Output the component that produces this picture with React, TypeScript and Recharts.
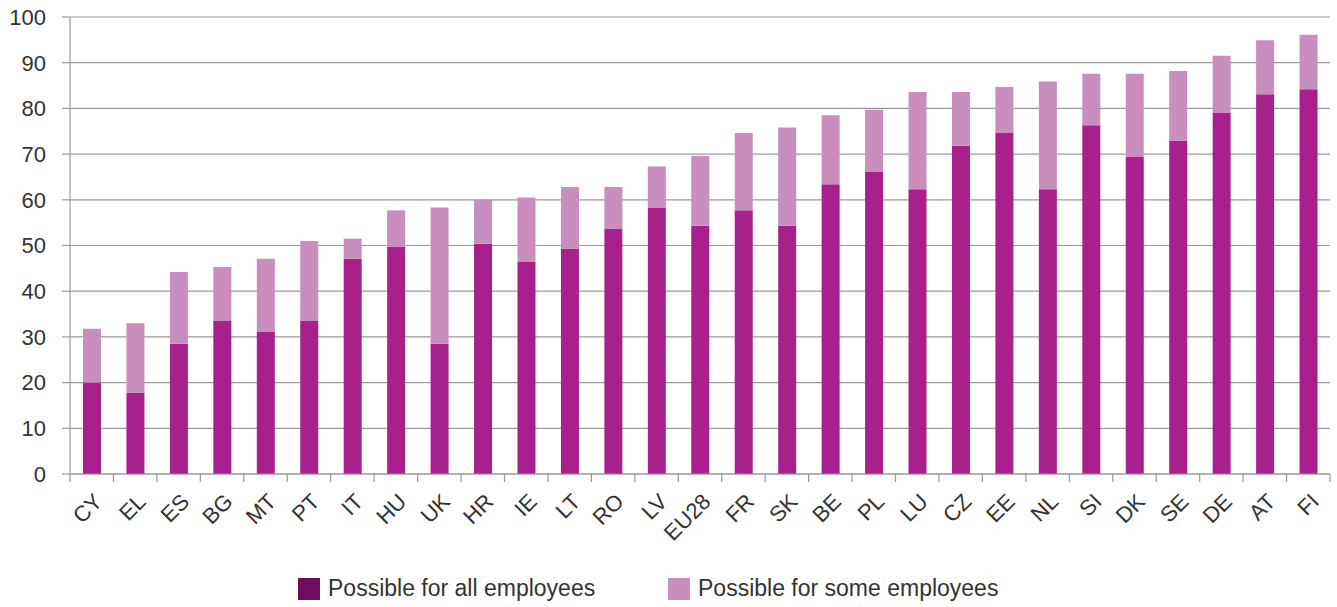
import { BarChart, Bar, XAxis, YAxis, CartesianGrid } from "recharts";

const countries = [
  "CY", "EL", "ES", "BG", "MT", "PT", "IT", "HU", "UK", "HR", "IE", "LT", "RO", "LV", "EU28",
  "FR", "SK", "BE", "PL", "LU", "CZ", "EE", "NL", "SI", "DK", "SE", "DE", "AT", "FI",
];
const allEmployees = [
  20.0, 17.8, 28.5, 33.5, 31.2, 33.5, 47.1, 49.8, 28.5, 50.4, 46.4, 49.3, 53.6, 58.3, 54.3,
  57.7, 54.3, 63.4, 66.1, 62.3, 71.8, 74.6, 62.3, 76.3, 69.5, 72.9, 79.1, 83.1, 84.2,
];
const someEmployees = [
  11.8, 15.2, 15.7, 11.8, 15.9, 17.5, 4.4, 7.9, 29.8, 9.6, 14.1, 13.5, 9.2, 9.0, 15.3,
  16.9, 21.5, 15.1, 13.6, 21.3, 11.8, 10.1, 23.6, 11.3, 18.1, 15.3, 12.4, 11.8, 11.9,
];
const yTicks = [0, 10, 20, 30, 40, 50, 60, 70, 80, 90, 100];

const W = 1337;
const H = 607;
const M = { top: 17, right: 7, left: 0, bottom: 0 };
const Y_AXIS_W = 70;
const X_AXIS_H = 133;
const STEP = (W - M.left - M.right - Y_AXIS_W) / countries.length;

const DARK = "#a8208c";
const LIGHT = "#c98ebe";
const TEXT = "#333333";
const GRID = "#9a9a9a";
const FONT = "'Liberation Sans', Arial, sans-serif";

const data = countries.map((c, i) => ({ name: c, all: allEmployees[i], some: someEmployees[i] }));

function XTick(props: any) {
  const { x, y, payload, index } = props;
  const last = index === countries.length - 1;
  const tx = x + 12;
  const ty = y + 29;
  return (
    <g>
      <line x1={x - STEP / 2} x2={x - STEP / 2} y1={y} y2={y + 8} stroke={GRID} strokeWidth={1.2} />
      {last && <line x1={x + STEP / 2} x2={x + STEP / 2} y1={y} y2={y + 8} stroke={GRID} strokeWidth={1.2} />}
      <text
        x={tx}
        y={ty}
        transform={`rotate(-45, ${tx}, ${ty})`}
        textAnchor="end"
        fontSize={22}
        fill={TEXT}
        fontFamily={FONT}
      >
        {payload.value}
      </text>
    </g>
  );
}

function LegendItem({ left, color, label }: { left: number; color: string; label: string }) {
  return (
    <div
      style={{
        position: "absolute",
        top: 575,
        left,
        display: "flex",
        alignItems: "center",
        fontFamily: FONT,
        fontSize: 23,
        color: TEXT,
        whiteSpace: "nowrap",
      }}
    >
      <span style={{ width: 22, height: 22, background: color, display: "inline-block", marginRight: 8 }} />
      <span>{label}</span>
    </div>
  );
}

export default function App() {
  return (
    <div style={{ position: "absolute", left: 0, top: 0, width: W, height: H, background: "#fff" }}>
      <BarChart width={W} height={H} data={data} margin={M}>
        <CartesianGrid vertical={false} stroke={GRID} strokeWidth={1.2} />
        <XAxis
          dataKey="name"
          interval={0}
          height={X_AXIS_H}
          tickLine={false}
          tickSize={0}
          tickMargin={0}
          axisLine={{ stroke: GRID, strokeWidth: 1.2 }}
          tick={<XTick />}
        />
        <YAxis
          domain={[0, 100]}
          ticks={yTicks}
          width={Y_AXIS_W}
          tickSize={8}
          tickMargin={16}
          tickLine={{ stroke: GRID, strokeWidth: 1.2 }}
          axisLine={{ stroke: GRID, strokeWidth: 1.2 }}
          tick={{ fontSize: 22, fill: TEXT, fontFamily: FONT }}
        />
        <Bar dataKey="all" stackId="a" fill={DARK} barSize={18} isAnimationActive={false} />
        <Bar dataKey="some" stackId="a" fill={LIGHT} barSize={18} isAnimationActive={false} />
      </BarChart>
      <LegendItem left={298} color="#700c60" label="Possible for all employees" />
      <LegendItem left={668} color={LIGHT} label="Possible for some employees" />
    </div>
  );
}
